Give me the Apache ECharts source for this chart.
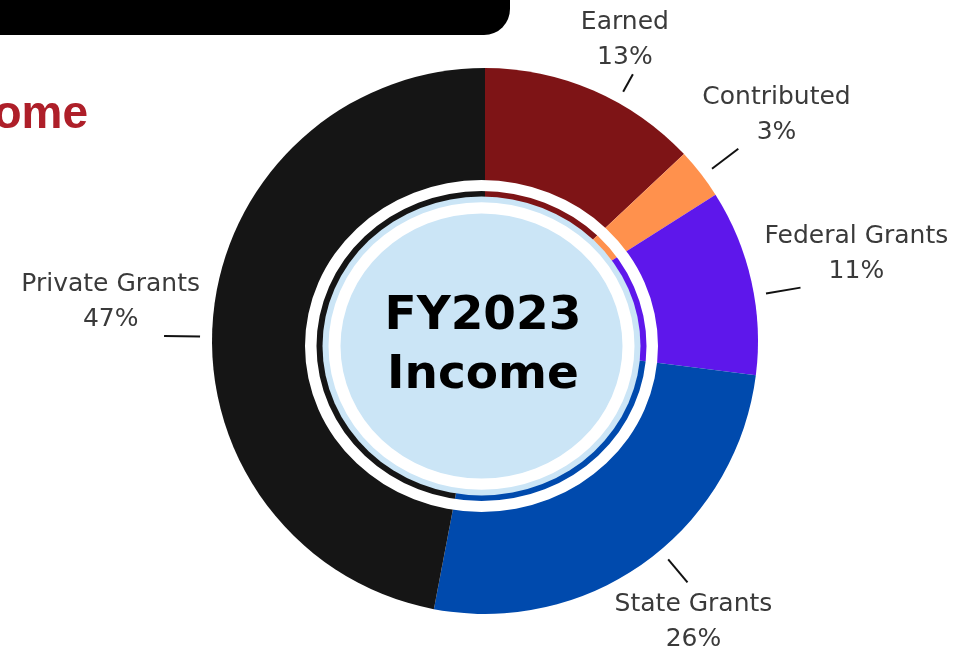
<!DOCTYPE html>
<html>
<head>
<meta charset="utf-8">
<title>FY2023 Income</title>
<script src="https://cdn.jsdelivr.net/npm/echarts@6/dist/echarts.min.js"></script>
<style>
  html, body { margin: 0; padding: 0; background: #fff; }
  #chart { width: 977px; height: 656px; }
</style>
</head>
<body>
<div id="chart"></div>
<script>
// income sources, clockwise from 12 o'clock
const categories = ['Earned', 'Contributed', 'Federal Grants', 'State Grants', 'Private Grants'];
const shares = [13, 3, 11, 26, 47]; // % of income

const sliceColors = ['#7e1416', '#ff914d', '#5e17eb', '#004aad', '#151515'];
// leader tick length and a small turn (deg, clockwise) per label
const leaderLength = [20, 33, 35, 30, 36];
const tickNudge = [5.6, 0.6, 3, -4, -4.5];

const pieCenter = [485, 341];
const ringCenter = [481.5, 346];

let chart = echarts.init(document.getElementById('chart'));

const sliceData = categories.map((name, i) => ({
  name: name, value: shares[i], itemStyle: { color: sliceColors[i] }
}));
const labelData = categories.map((name, i) => ({
  name: name, value: shares[i], labelLine: { length: leaderLength[i] }
}));

function turn(pt, deg) {
  const a = deg * Math.PI / 180;
  const dx = pt[0] - pieCenter[0], dy = pt[1] - pieCenter[1];
  return [pieCenter[0] + dx * Math.cos(a) - dy * Math.sin(a),
          pieCenter[1] + dx * Math.sin(a) + dy * Math.cos(a)];
}

chart.setOption({
  animation: false,
  series: [
    {
      type: 'pie',
      center: pieCenter,
      radius: [0, 273],
      startAngle: 90,
      clockwise: true,
      silent: true,
      label: { show: false },
      labelLine: { show: false },
      data: sliceData,
      z: 2
    },
    {
      // invisible copy, only carries labels and the short ticks
      type: 'pie',
      center: pieCenter,
      radius: [0, 285],
      startAngle: 90,
      clockwise: true,
      silent: true,
      avoidLabelOverlap: false,
      itemStyle: { color: 'rgba(0,0,0,0)' },
      label: {
        show: true,
        position: 'outside',
        formatter: p => p.name + '\n' + p.value + '%',
        fontFamily: 'DejaVu Sans',
        fontSize: 25,
        lineHeight: 35,
        color: '#3a3a3a'
      },
      labelLine: { show: true, length2: 0, lineStyle: { color: '#111', width: 2 } },
      labelLayout: function (p) {
        const pts = p.labelLinePoints;
        if (!pts) return;
        const nudge = tickNudge[p.dataIndex] || 0;
        const tick = [turn(pts[0], nudge), turn(pts[1], nudge)];
        const end = tick[1];
        const w = p.labelRect.width;
        const dx = end[0] - pieCenter[0], dy = end[1] - pieCenter[1];
        if (dy > 150) {
          return { x: end[0] + 6, y: end[1] + 5, align: 'center', verticalAlign: 'top', labelLinePoints: tick };
        }
        const off = Math.abs(dx) > Math.abs(dy) * 0.8 ? (dx > 0 ? 1 : -1) * (w / 2 - 36) : -8;
        return { x: end[0] + off, y: end[1] + 1, align: 'center', verticalAlign: 'bottom', labelLinePoints: tick };
      },
      data: labelData,
      z: 1
    }
  ],
  graphic: [
    { type: 'rect', shape: { x: -30, y: -40, width: 540, height: 75, r: 26 }, style: { fill: '#000' }, z: 10 },
    {
      type: 'text', x: 88, y: 115, z: 10,
      style: { text: 'Income', fontFamily: 'Liberation Sans', fontWeight: 'bold', fontSize: 46, fill: '#ae1f29', align: 'right', verticalAlign: 'middle' }
    },
    {
      type: 'group', x: ringCenter[0], y: ringCenter[1], scaleY: 0.94, z: 10,
      children: [
        { type: 'ring', shape: { cx: 0, cy: 0, r: 176.5, r0: 165 }, style: { fill: '#fff' }, z: 10 },
        { type: 'circle', shape: { cx: 0, cy: 0, r: 159 }, style: { fill: '#cbe5f6' }, z: 10 },
        { type: 'ring', shape: { cx: 0, cy: 0, r: 153, r0: 141 }, style: { fill: '#fff' }, z: 10 }
      ]
    },
    {
      type: 'text', x: 483, y: 346, z: 11,
      style: { text: 'FY2023\nIncome', fontFamily: 'DejaVu Sans', fontWeight: 'bold', fontSize: 47, lineHeight: 59, fill: '#000', align: 'center', verticalAlign: 'middle' }
    }
  ]
});
</script>
</body>
</html>
